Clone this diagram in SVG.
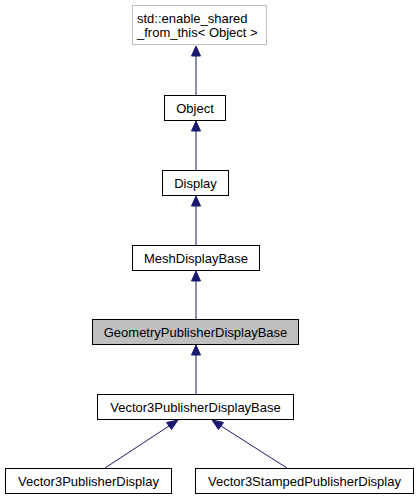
<svg xmlns="http://www.w3.org/2000/svg" width="418" height="500" viewBox="0 0 418 500">
<defs>
<style>
.n rect{fill:#fff;stroke:#000;stroke-width:1}
.n text{font-family:"Liberation Sans",Arial,sans-serif;font-size:13px;fill:#000;text-anchor:middle}
.e{stroke:#191970;stroke-width:1;fill:none}
.h{fill:#191970;stroke:#191970}
</style>
</defs>
<rect width="418" height="500" fill="#fff"/>
<g id="connectors">
<path class="e" d="M196,95 V56"/><polygon class="h" points="196,46 200.5,56 191.5,56"/>
<path class="e" d="M196,170 V131"/><polygon class="h" points="196,121 200.5,131 191.5,131"/>
<path class="e" d="M196,245 V206"/><polygon class="h" points="196,196 200.5,206 191.5,206"/>
<path class="e" d="M196,319 V281"/><polygon class="h" points="196,271 200.5,281 191.5,281"/>
<path class="e" d="M196,395 V355"/><polygon class="h" points="196,345 200.5,355 191.5,355"/>
<path class="e" d="M105,468 L169,426"/><polygon class="h" points="178,420 171.5,429.5 166.5,422.5"/>
<path class="e" d="M287,468 L221,426"/><polygon class="h" points="212,420 223.5,422.5 218.5,429.5"/>
</g>
<g id="node-enable-shared" class="n">
<rect x="132.5" y="5.5" width="134" height="39" style="stroke:#bfbfbf"/>
<text x="137" y="22.5" style="text-anchor:start">std::enable_shared</text>
<text x="137" y="36.5" style="text-anchor:start">_from_this&lt; Object &gt;</text>
</g>
<g id="node-object" class="n">
<rect x="164.5" y="95.5" width="61" height="25"/>
<text x="195" y="112.5">Object</text>
</g>
<g id="node-display" class="n">
<rect x="162.5" y="170.5" width="66" height="25"/>
<text x="195.5" y="187.5">Display</text>
</g>
<g id="node-meshdisplaybase" class="n">
<rect x="132.5" y="245.5" width="127" height="25"/>
<text x="196" y="262.5">MeshDisplayBase</text>
</g>
<g id="node-geometrypublisherdisplaybase" class="n">
<rect x="92.5" y="319.5" width="206" height="25" style="fill:#bfbfbf"/>
<text x="195.5" y="336.5">GeometryPublisherDisplayBase</text>
</g>
<g id="node-vector3publisherdisplaybase" class="n">
<rect x="97.5" y="394.5" width="196" height="25"/>
<text x="195.5" y="411.5">Vector3PublisherDisplayBase</text>
</g>
<g id="node-vector3publisherdisplay" class="n">
<rect x="5.5" y="468.5" width="166" height="25"/>
<text x="88.5" y="485.5">Vector3PublisherDisplay</text>
</g>
<g id="node-vector3stampedpublisherdisplay" class="n">
<rect x="195.5" y="468.5" width="218" height="25"/>
<text x="304.5" y="485.5">Vector3StampedPublisherDisplay</text>
</g>
</svg>
